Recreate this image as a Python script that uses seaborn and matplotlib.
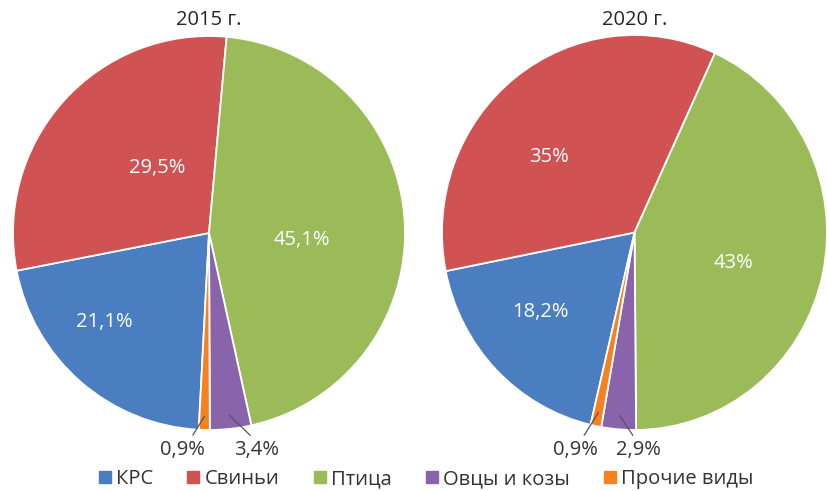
import numpy as np
import seaborn as sns
import matplotlib.pyplot as plt
from matplotlib.lines import Line2D

# data
categories = ['КРС', 'Свиньи', 'Птица', 'Овцы и козы', 'Прочие виды']
values_2015 = [21.1, 29.5, 45.1, 3.4, 0.9]
values_2020 = [18.2, 35.0, 43.0, 2.9, 0.9]
labels_2015 = ['21,1%', '29,5%', '45,1%', '3,4%', '0,9%']
labels_2020 = ['18,2%', '35%', '43%', '2,9%', '0,9%']
titles = ['2015 г.', '2020 г.']

colors = ['#4A7EC0', '#D05252', '#9BBB59', '#8A64AA', '#F5821F']

sns.set_theme(style='white')
plt.rcParams['font.family'] = ['Open Sans', 'DejaVu Sans']

W, H = 828, 491
fig = plt.figure(figsize=(W / 100, H / 100), dpi=100)


def px_axes(x0, y0, x1, y1):
    return fig.add_axes([x0 / W, 1 - y1 / H, (x1 - x0) / W, (y1 - y0) / H])


# pie boxes in pixels, start angle of first slice (clockwise from top)
boxes = [(13, 36, 405, 430), (442, 35, 827, 430)]
first_angle = [183.0, 193.2]
# label placement inside the pies (pie coords), big three slices
inner_pos = [
    [(-0.536, -0.452), (-0.265, 0.33), (0.474, -0.036)],
    [(-0.491, -0.403), (-0.444, 0.382), (0.512, -0.154)],
]
# small slices: label centres (pie coords) and line attach point on label
outer_pos = [
    {3: ((0.245, -1.1), 0.45), 4: ((-0.138, -1.1), 0.68)},
    {3: ((0.018, -1.1), 0.45), 4: ((-0.309, -1.1), 0.64)},
]

for k, (vals, labs) in enumerate([(values_2015, labels_2015), (values_2020, labels_2020)]):
    ax = px_axes(*boxes[k])
    wedges, _ = ax.pie(vals, colors=colors, startangle=90 - first_angle[k],
                       counterclock=False, radius=1,
                       wedgeprops=dict(edgecolor='white', linewidth=1.3))
    ax.set_xlim(-1, 1)
    ax.set_ylim(-1, 1)
    ax.set_aspect('auto')
    ax.axis('off')

    for i in range(3):
        x, y = inner_pos[k][i]
        ax.text(x, y, labs[i], color='white', fontsize=14.5, ha='center', va='center')

    for i, ((x, y), rel) in outer_pos[k].items():
        w = wedges[i]
        mid = np.deg2rad((w.theta1 + w.theta2) / 2)
        ax.annotate(labs[i], xy=(0.93 * np.cos(mid), 0.93 * np.sin(mid)),
                    xytext=(x, y), ha='center', va='center', fontsize=14.5,
                    color='#333333',
                    arrowprops=dict(arrowstyle='-', color='#555555', lw=0.9,
                                    relpos=(rel, 1.0), shrinkA=1, shrinkB=0))

    cx = (boxes[k][0] + boxes[k][2]) / 2
    fig.text(cx / W, 1 - 20.5 / H, titles[k], ha='center', va='center',
             fontsize=14.5, color='#262626')

handles = [Line2D([], [], marker='s', linestyle='', markersize=8.5,
                  markerfacecolor=c, markeredgecolor=c) for c in colors]
fig.legend(handles, categories, loc='center', bbox_to_anchor=(426 / W, 1 - 479 / H),
           ncol=5, frameon=False, fontsize=14.5, handlelength=0.6,
           handletextpad=0.25, columnspacing=1.7, borderpad=0,
           labelcolor='#333333')

fig.savefig('out.png', dpi=100)
